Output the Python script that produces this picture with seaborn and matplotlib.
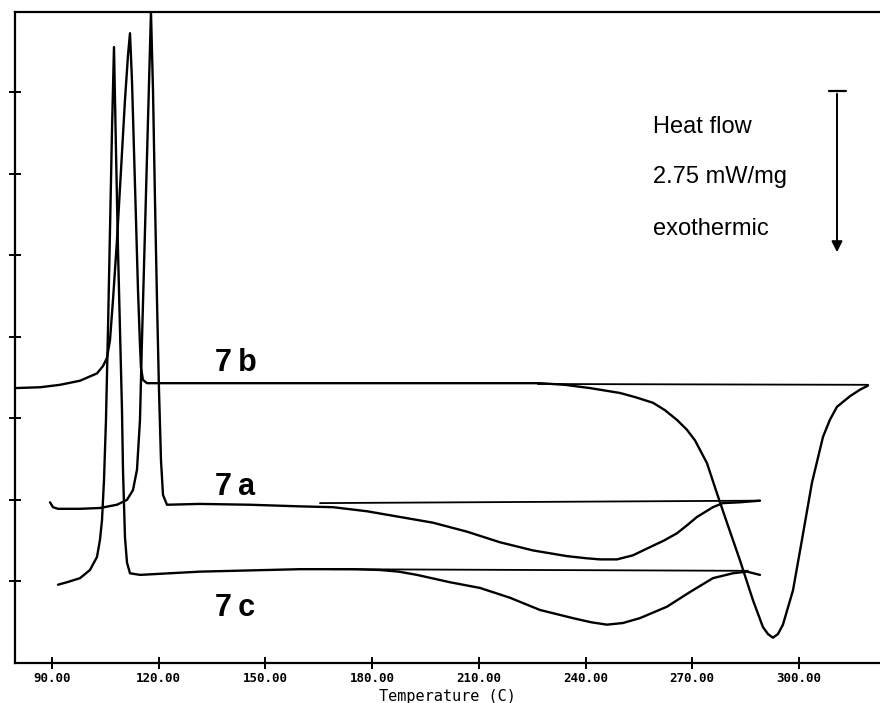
import matplotlib.pyplot as plt
import seaborn as sns
import pandas as pd
from matplotlib.lines import Line2D

# curvas DSC (temperatura em C, fluxo de calor em unidades de divisao)
temp_7b = [79.60, 86.63, 92.25, 97.87, 102.65, 104.34, 105.46, 106.31, 107.15, 108.27,
           109.40, 110.52, 111.37, 111.93, 112.49, 113.05, 113.62, 114.18, 114.74, 115.02,
           115.58, 116.71, 131.61, 159.72, 187.84, 210.33, 227.20, 234.22, 241.25, 249.69,
           253.90, 258.96, 262.30, 265.71, 268.50, 270.77, 274.15, 276.96, 279.77, 283.42,
           287.08, 289.89, 291.30, 292.70, 294.11, 295.51, 298.33, 300.86, 303.67, 306.76,
           308.70, 310.69, 314.35, 317.16, 319.41]
flow_7b = [3.37, 3.38, 3.41, 3.46, 3.55, 3.64, 3.74, 3.96, 4.45, 5.18,
           6.04, 6.90, 7.45, 7.72, 7.14, 6.29, 5.43, 4.57, 3.90, 3.62,
           3.47, 3.43, 3.43, 3.43, 3.43, 3.43, 3.43, 3.41, 3.37, 3.31,
           3.26, 3.19, 3.10, 2.98, 2.86, 2.73, 2.45, 2.08, 1.72, 1.26,
           0.77, 0.44, 0.355, 0.31, 0.355, 0.47, 0.89, 1.51, 2.21, 2.77,
           2.98, 3.14, 3.27, 3.35, 3.40]

temp_7a = [89.44, 90.28, 91.69, 97.87, 103.49, 108.27, 111.09, 112.77, 113.90, 114.74,
           115.30, 116.15, 116.99, 117.83, 118.40, 118.96, 119.52, 120.08, 120.64, 121.21,
           122.33, 131.61, 145.67, 159.72, 169.00, 178.56, 187.84, 197.11, 206.67, 215.95,
           225.23, 234.79, 240.00, 244.06, 248.84, 253.34, 258.12, 262.00, 265.71, 268.60,
           271.34, 275.83, 278.64, 283.42, 289.05]
flow_7a = [1.97, 1.91, 1.89, 1.89, 1.90, 1.94, 2.00, 2.12, 2.37, 2.98,
           3.96, 5.31, 6.65, 7.98, 7.02, 5.67, 4.45, 3.35, 2.49, 2.06,
           1.94, 1.95, 1.94, 1.92, 1.91, 1.86, 1.79, 1.72, 1.61, 1.48,
           1.38, 1.31, 1.285, 1.27, 1.27, 1.32, 1.42, 1.50, 1.59, 1.69,
           1.79, 1.91, 1.96, 1.97, 1.99]

temp_7c = [91.69, 94.22, 97.87, 100.68, 102.65, 103.49, 104.06, 104.62, 105.18, 105.74,
           106.31, 106.87, 107.43, 107.99, 108.56, 109.12, 109.68, 109.96, 110.52, 111.09,
           111.93, 114.74, 131.61, 159.72, 175.00, 182.21, 187.50, 192.62, 201.89, 210.33,
           218.76, 227.20, 236.47, 241.50, 246.03, 250.50, 255.31, 262.90, 269.37, 275.83,
           281.46, 285.39, 289.05]
flow_7c = [0.96, 0.99, 1.04, 1.14, 1.30, 1.51, 1.75, 2.24, 2.98, 4.08,
           5.31, 6.53, 7.55, 6.29, 5.06, 4.08, 3.10, 2.37, 1.54, 1.23,
           1.10, 1.08, 1.12, 1.15, 1.15, 1.14, 1.12, 1.08, 0.99, 0.92,
           0.80, 0.65, 0.55, 0.50, 0.47, 0.49, 0.55, 0.69, 0.87, 1.04,
           1.10, 1.12, 1.08]

# linhas de base
base_temp = {'7b': [226.63, 319.41], '7a': [165.35, 289.05], '7c': [168.16, 285.67]}
base_flow = {'7b': [3.42, 3.41], '7a': [1.96, 1.99], '7c': [1.15, 1.13]}

xticks = [90, 120, 150, 180, 210, 240, 270, 300]
yticks = [1, 2, 3, 4, 5, 6, 7]

curvas = pd.concat([
    pd.DataFrame({'temp': temp_7b, 'flow': flow_7b, 'amostra': '7b'}),
    pd.DataFrame({'temp': temp_7a, 'flow': flow_7a, 'amostra': '7a'}),
    pd.DataFrame({'temp': temp_7c, 'flow': flow_7c, 'amostra': '7c'}),
])
bases = pd.concat([pd.DataFrame({'temp': base_temp[k], 'flow': base_flow[k], 'amostra': k})
                   for k in base_temp])

sns.set_style('ticks')
plt.rcParams['font.family'] = ['DejaVu Sans Mono']
plt.rcParams['text.color'] = 'black'
plt.rcParams['axes.labelcolor'] = 'black'
plt.rcParams['xtick.color'] = 'black'
plt.rcParams['ytick.color'] = 'black'

fig = plt.figure(figsize=(8.8, 7.03), dpi=100)
ax = fig.add_axes([15/880, 40/703, 865/880, 651/703])

sns.lineplot(data=curvas, x='temp', y='flow', units='amostra', estimator=None, sort=False,
             color='black', lw=1.7, ax=ax)
sns.lineplot(data=bases, x='temp', y='flow', units='amostra', estimator=None, sort=False,
             color='black', lw=1.3, ax=ax)

ax.set_xlim(79.6, 322.8)
ax.set_ylim(0, 7.98)
ax.set_xticks(xticks)
ax.set_xticklabels([f'{t:.2f}' for t in xticks], fontsize=9, fontweight='bold')
ax.set_yticks(yticks)
ax.set_yticklabels([])
ax.tick_params(direction='inout', length=9, width=1.4, colors='black', pad=2)
ax.set_xlabel('Temperature (C)', fontsize=11, labelpad=3)
ax.set_ylabel('')
for s in ['left', 'bottom', 'top']:
    ax.spines[s].set_linewidth(1.6)
    ax.spines[s].set_color('black')
ax.spines['right'].set_visible(False)

# rotulos das amostras
for nome, yy in [('7b', 3.58), ('7a', 2.06), ('7c', 0.58)]:
    ax.text(135.8, yy, nome[0] + '\u2009' + nome[1], fontsize=22, fontweight='bold',
            family=['Liberation Sans', 'DejaVu Sans'], va='baseline', ha='left', color='black')

# escala do fluxo de calor
for txt, yb in [('Heat flow', 133), ('2.75 mW/mg', 183), ('exothermic', 235)]:
    fig.text(653/880, 1 - yb/703, txt, fontsize=17, family='Liberation Sans',
             va='baseline', color='black')
ax.annotate('', xy=(837/880, 1 - 255/703), xytext=(837/880, 1 - 91/703),
            xycoords='figure fraction', textcoords='figure fraction',
            arrowprops=dict(arrowstyle='-|>', color='black', lw=1.4, mutation_scale=16))
fig.add_artist(Line2D([829/880, 846/880], [1 - 91/703, 1 - 91/703], color='black', lw=1.6))

plt.savefig('out.png', dpi=100)
